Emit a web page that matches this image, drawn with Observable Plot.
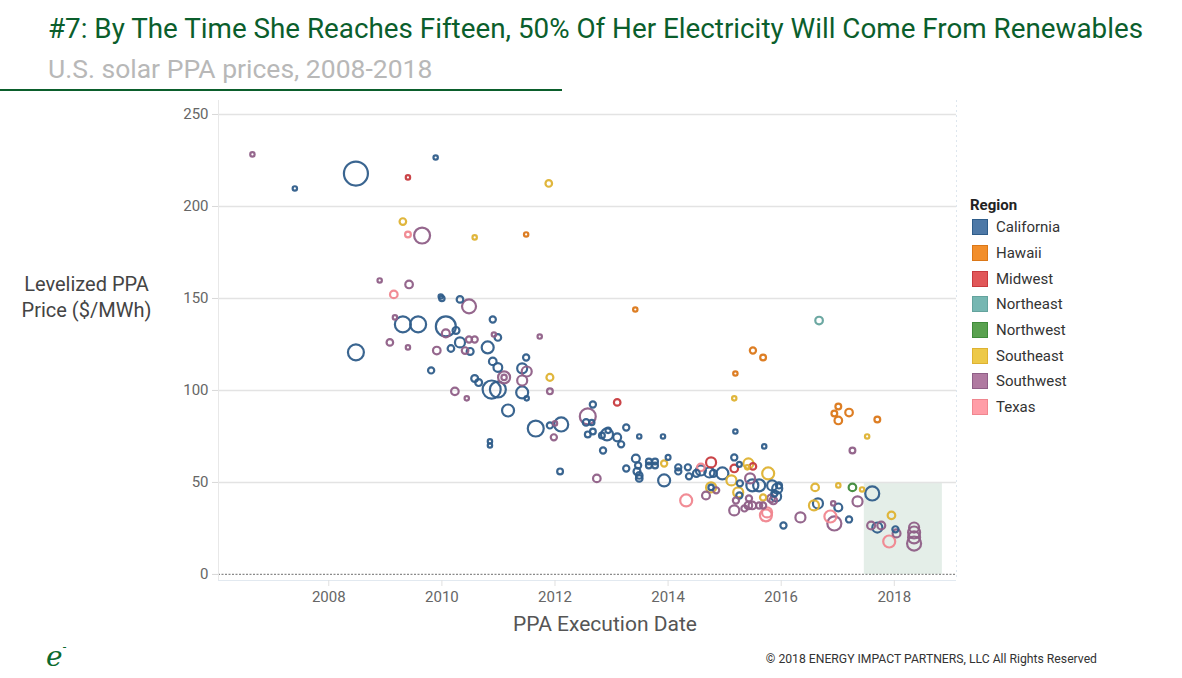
<!DOCTYPE html>
<html><head><meta charset="utf-8">
<script src="https://cdn.jsdelivr.net/npm/d3@7"></script>
<script src="https://cdn.jsdelivr.net/npm/@observablehq/plot@0.6"></script>
<style>
body{margin:0;width:1182px;height:678px;position:relative;background:#fff;font-family:Roboto,"Open Sans",sans-serif;overflow:hidden}
#title{position:absolute;left:48px;top:12px;font-size:27.8px;color:#0b5e2c;white-space:nowrap}
#subtitle{position:absolute;left:48px;top:53px;font-size:26.5px;color:#b8b8b8;white-space:nowrap}
#rule{position:absolute;left:0;top:89px;width:562px;height:2px;background:#0b5e2c}
#chart{position:absolute;left:0;top:0}
#ytitle{position:absolute;left:0;width:173px;text-align:center;top:271px;font-size:20px;line-height:26px;color:#444}
#xtitle{position:absolute;left:405px;width:400px;text-align:center;top:612px;font-size:21px;color:#555}
#legend{position:absolute;left:970px;top:197px;font-size:15px;color:#333}
#legend .hd{font-weight:bold;font-size:15px;height:17.5px;line-height:17.5px;color:#222}
#legend .it{display:flex;align-items:center;height:25.7px}
#legend .sw{width:16px;height:16px;margin-left:2px;margin-right:8px;box-sizing:border-box}
#copy{position:absolute;right:85px;top:652px;font-size:12.2px;color:#333;white-space:nowrap}
#logo{position:absolute;left:46px;top:640px;font-family:"DejaVu Serif",serif;font-style:italic;font-size:28px;color:#0b6a2e}
</style></head>
<body>
<div id="title">#7: By The Time She Reaches Fifteen, 50% Of Her Electricity Will Come From Renewables</div>
<div id="subtitle">U.S. solar PPA prices, 2008-2018</div>
<div id="rule"></div>
<div id="chart"></div>
<div id="ytitle">Levelized PPA<br>Price ($/MWh)</div>
<div id="xtitle">PPA Execution Date</div>
<div id="legend"></div>
<div id="copy">© 2018 ENERGY IMPACT PARTNERS, LLC All Rights Reserved</div>
<div id="logo">e<span style="font-size:12px;vertical-align:top;font-style:normal">-</span></div>
<script>
// [execution year, price $/MWh, capacity MW]
const california = [
 [2007.40,209.8,20],[2008.48,217.9,600],[2009.89,226.6,20],[2009.98,151.1,20],[2010.00,150.0,30],
 [2010.32,149.5,45],[2010.90,138.6,40],[2009.31,135.9,265],[2009.58,135.9,265],[2010.07,134.8,415],
 [2010.25,132.6,50],[2010.16,122.8,45],[2010.32,126.1,105],[2010.50,121.2,50],[2010.81,123.4,150],
 [2010.99,128.8,45],[2008.48,120.7,265],[2011.49,117.9,40],[2009.81,110.9,40],[2010.58,106.5,50],
 [2010.65,104.3,50],[2010.90,115.8,60],[2010.99,112.5,80],[2010.88,100.5,340],[2010.99,100.5,265],
 [2011.42,112.0,105],[2011.42,98.9,150],[2011.50,95.7,20],[2011.17,89.1,150],[2012.67,92.4,40],
 [2012.55,82.6,45],[2012.65,82.6,30],[2011.66,79.3,265],[2011.91,81.0,40],[2012.11,81.5,205],
 [2010.85,72.3,20],[2010.85,70.1,20],[2012.09,56.0,35],[2012.85,67.4,40],[2012.92,76.1,150],
 [2012.67,77.7,35],[2012.58,76.1,35],[2012.83,75.5,35],[2012.94,78.3,30],[2013.10,74.5,65],
 [2013.17,70.7,40],[2013.26,79.9,40],[2013.49,75.0,20],[2013.91,75.0,20],[2013.43,63.0,65],
 [2013.47,59.2,40],[2013.26,57.6,40],[2013.45,56.0,50],[2013.49,53.8,45],[2013.49,52.2,45],
 [2013.66,61.4,35],[2013.77,61.4,35],[2013.66,59.2,35],[2013.77,59.2,35],[2014.00,63.6,25],
 [2013.93,51.1,150],[2014.18,58.2,40],[2014.18,56.0,40],[2014.35,58.2,40],[2014.37,53.3,40],
 [2014.50,54.9,50],[2014.58,56.5,105],[2014.73,55.4,105],[2014.80,54.9,50],[2014.96,54.9,150],
 [2014.76,47.3,30],[2015.19,77.7,20],[2015.70,69.6,20],[2015.17,63.6,40],[2015.26,59.8,25],
 [2015.27,49.5,40],[2015.26,42.9,40],[2015.49,48.4,150],[2015.61,48.4,150],[2015.84,48.4,105],
 [2015.96,48.4,40],[2015.88,44.0,40],[2015.93,46.7,105],[2015.91,42.4,105],[2016.04,26.6,40],
 [2016.65,38.6,105],[2017.01,36.4,65],[2017.20,29.9,40],[2017.61,44.0,205],[2017.70,25.5,105],
 [2018.02,24.5,40]
];
const hawaii = [
 [2011.49,184.8,20],[2013.42,144.0,20],[2015.50,121.7,40],[2015.68,117.9,35],[2015.19,109.2,20],
 [2017.01,91.3,35],[2016.94,87.5,35],[2017.01,83.7,60],[2017.20,88.0,60],[2017.70,84.2,35]
];
const midwest = [
 [2009.40,215.8,20],[2013.10,93.5,45],[2014.76,60.9,105],[2015.17,57.6,60],[2015.50,58.7,45]
];
const northeast = [[2016.67,138.0,60]];
const northwest = [[2017.26,47.3,60]];
const southeast = [
 [2011.89,212.5,45],[2009.31,191.8,45],[2010.58,183.2,20],[2011.91,107.1,50],[2013.93,60.3,40],
 [2015.17,95.7,20],[2014.76,47.3,105],[2015.12,51.1,105],[2015.42,60.3,105],[2015.40,58.2,20],
 [2015.77,54.9,150],[2015.24,44.6,105],[2015.68,41.8,40],[2016.60,47.3,60],[2016.58,37.5,105],
 [2017.01,48.4,20],[2017.43,46.2,20],[2017.52,75.0,20],[2017.95,32.1,60]
];
const southwest = [
 [2006.65,228.3,20],[2009.65,184.2,265],[2008.90,159.8,20],[2009.42,157.6,60],[2010.48,145.7,205],
 [2011.73,129.3,20],[2010.07,131.0,65],[2009.17,139.7,20],[2009.08,126.1,45],[2009.40,123.4,20],
 [2009.91,121.7,60],[2010.48,127.7,40],[2010.58,127.7,40],[2010.41,121.7,45],[2010.92,130.4,20],
 [2011.10,107.1,150],[2011.10,107.1,30],[2011.50,110.3,105],[2011.42,105.4,105],[2010.23,99.5,60],
 [2010.44,95.7,20],[2011.91,99.5,35],[2012.58,85.9,265],[2011.98,74.5,40],[2012.00,82.1,20],
 [2012.74,52.2,60],[2014.67,42.9,65],[2014.85,45.7,40],[2015.45,52.2,105],[2015.17,34.8,105],
 [2015.20,40.2,40],[2015.43,41.3,40],[2015.42,37.5,60],[2015.35,35.9,40],[2015.49,37.5,60],
 [2015.61,37.5,40],[2015.68,37.5,40],[2015.82,41.3,60],[2015.86,40.2,60],[2016.34,31.0,105],
 [2017.26,67.4,35],[2016.92,38.6,20],[2017.35,39.7,105],[2016.94,27.7,205],[2017.59,26.6,65],
 [2017.77,26.6,65],[2018.04,22.3,65],[2018.35,25.5,105],[2018.35,22.8,150],[2018.35,20.1,150],
 [2018.35,16.8,205]
];
const texas = [
 [2009.40,184.8,35],[2009.15,152.2,60],[2014.58,58.2,60],[2014.32,40.2,150],[2015.75,33.7,105],
 [2015.73,32.1,150],[2016.87,31.5,150],[2017.91,17.9,150]
];
const regions = ["California","Hawaii","Midwest","Northeast","Northwest","Southeast","Southwest","Texas"];
const series = [california,hawaii,midwest,northeast,northwest,southeast,southwest,texas];
const markColors = ["#2f5d8a","#db7718","#c73a3e","#64a39d","#3f8a3a","#deb232","#8f5f87","#f0868f"];
const legendColors = ["#4e79a7","#f28e2b","#e15759","#76b7b2","#59a14f","#edc948","#b07aa1","#ff9da7"];
const yearTicks = [2008,2010,2012,2014,2016,2018];
const priceTicks = [0,50,100,150,200,250];
const highlight = [{x1:2017.47,x2:2018.85,y1:0,y2:50}];
const xDomain = [2006.05,2019.1];
const yDomain = [-3.3,257.6];

const data = series.flatMap((arr,i)=>arr.map(([year,price,mw])=>({year,price,mw,region:regions[i]})));

const chart = Plot.plot({
  width:1182, height:678,
  marginLeft:218, marginRight:226, marginTop:100, marginBottom:98,
  style:{fontFamily:"Roboto, 'Open Sans', sans-serif", fontSize:"15px", background:"transparent"},
  x:{domain:xDomain, label:null},
  y:{domain:yDomain, label:null},
  r:{type:"sqrt", domain:[0,600], range:[0,12]},
  color:{domain:regions, range:markColors},
  marks:[
    Plot.rect(highlight,{x1:"x1",x2:"x2",y1:"y1",y2:"y2",fill:"#e4eee8"}),
    Plot.gridY(priceTicks.filter(d=>d>0),{stroke:"#e3e3e3",strokeOpacity:1,strokeWidth:1.5}),
    Plot.ruleY([0],{stroke:"#8a8a8a",strokeDasharray:"2,1.5",strokeWidth:1.2}),
    Plot.ruleX([xDomain[0]],{stroke:"#e8e8e8"}),
    Plot.ruleX([xDomain[1]],{stroke:"#dde6ee",strokeDasharray:"2,3"}),
    Plot.ruleY([yDomain[0]],{stroke:"#e2e9f0"}),
    Plot.axisY({ticks:priceTicks,tickSize:6,tickPadding:4,stroke:"#d8d8d8",fill:"#666",fontSize:15,label:null}),
    Plot.axisX({ticks:yearTicks,tickFormat:d=>String(d),tickSize:6,tickPadding:5,stroke:"#e0e0e0",fill:"#666",fontSize:15,label:null}),
    Plot.dot(data,{x:"year",y:"price",r:"mw",stroke:"region",fill:"none",strokeWidth:2.2,strokeOpacity:0.95})
  ]
});
document.getElementById("chart").appendChild(chart);

const lg = document.getElementById("legend");
lg.innerHTML = '<div class="hd">Region</div>' + regions.map((r,i)=>
  `<div class="it"><div class="sw" style="background:${legendColors[i]};border:1px solid ${markColors[i]}"></div>${r}</div>`).join("");
</script>
</body></html>
